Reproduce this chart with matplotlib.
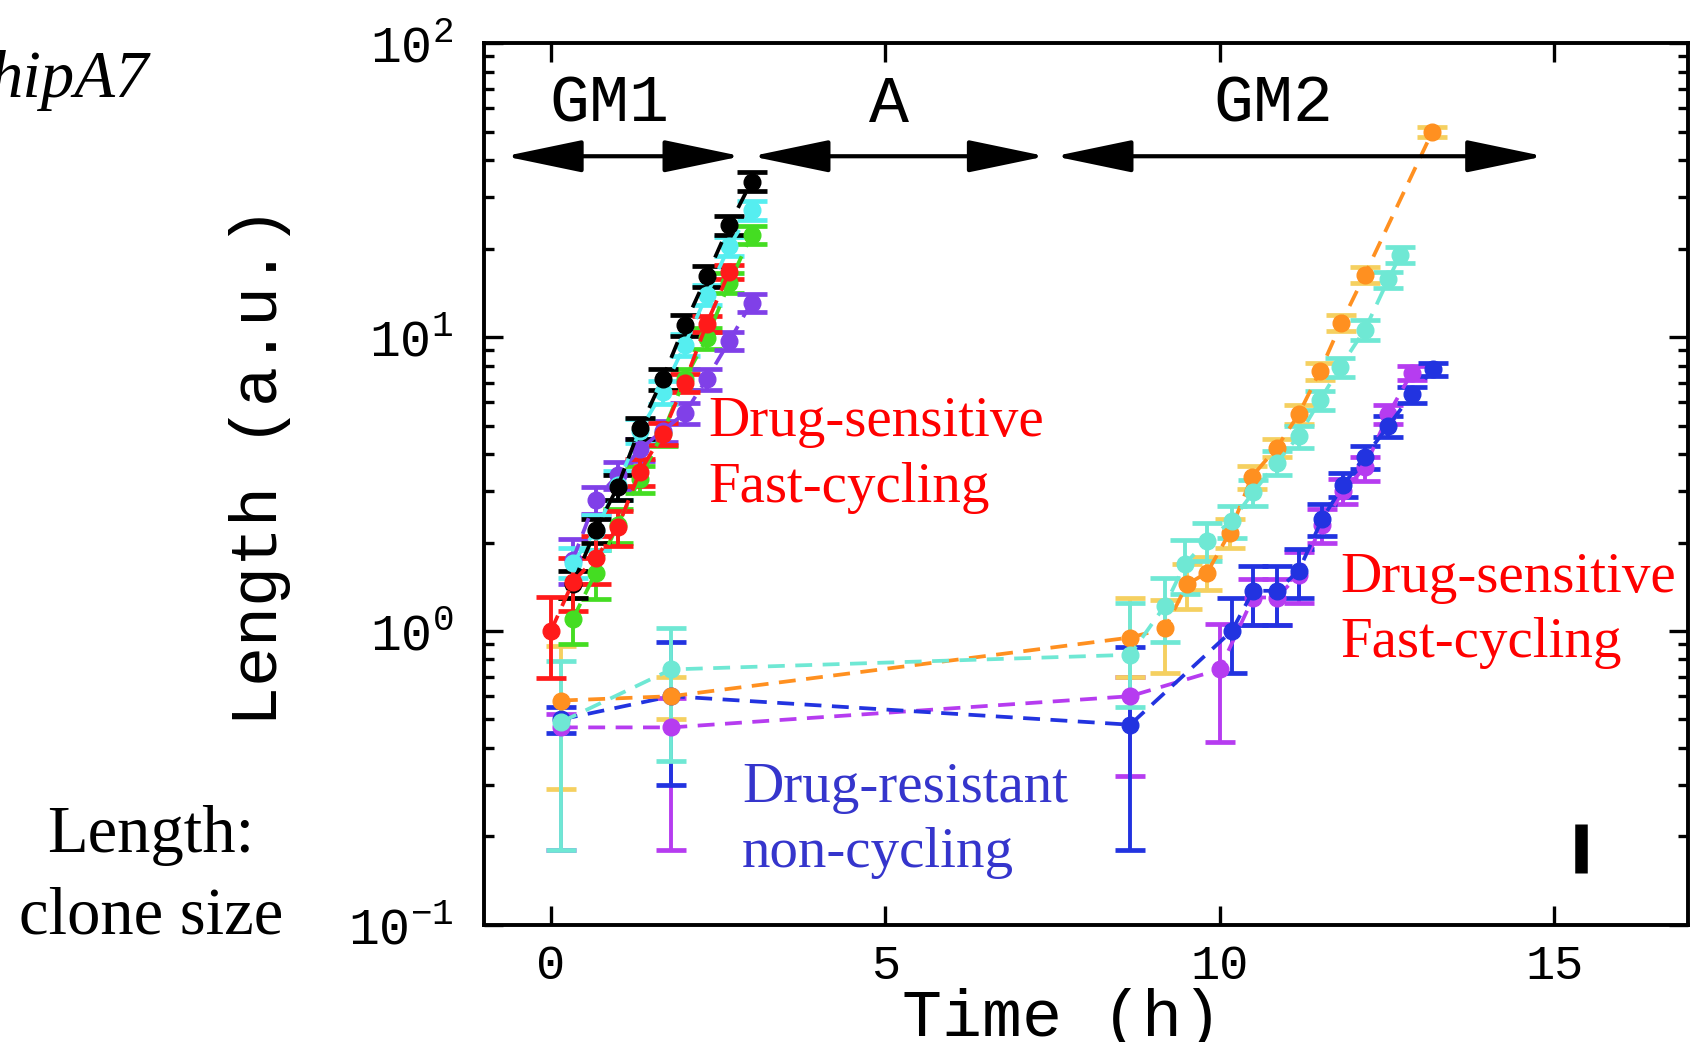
import numpy as np
import matplotlib.pyplot as plt
from matplotlib.ticker import FixedLocator, FuncFormatter, LogLocator, NullFormatter

plt.rcParams['font.family'] = 'Liberation Mono'
plt.rcParams['mathtext.fontset'] = 'custom'
plt.rcParams['mathtext.rm'] = 'Liberation Mono'

# growth phase GM1 (time in h, length in a.u.)
t_red = [0.0, 0.33, 0.67, 1.0, 1.33, 1.67, 2.0, 2.33, 2.67]
y_red = [1.0, 1.47, 1.77, 2.25, 3.48, 4.68, 7.0, 11.1, 16.7]
e_red = [0.31, 0.3, 0.33, 0.31, 0.37, 0.4, 0.5, 0.7, 0.9]

t_gm1 = [0.33, 0.67, 1.0, 1.33, 1.67, 2.0, 2.33, 2.67, 3.0]
y_black = [1.45, 2.2, 3.1, 4.9, 7.2, 11.0, 16.1, 24.1, 33.8]
e_black = [0.15, 0.2, 0.3, 0.4, 0.6, 0.9, 1.3, 1.8, 2.5]
y_cyan = [1.71, 2.19, 3.15, 4.8, 6.5, 9.4, 13.9, 20.4, 27.1]
e_cyan = [0.2, 0.3, 0.35, 0.45, 0.6, 0.8, 1.1, 1.5, 2.0]
y_green = [1.1, 1.58, 2.3, 3.3, 4.7, 7.2, 9.9, 15.3, 22.3]
e_green = [0.2, 0.3, 0.3, 0.35, 0.45, 0.6, 0.8, 1.2, 1.6]
y_purple = [1.75, 2.8, 3.4, 4.15, 4.8, 5.5, 7.2, 9.7, 13.1]
e_purple = [0.3, 0.3, 0.35, 0.35, 0.4, 0.45, 0.6, 0.7, 0.9]

# clones through antibiotic phase A and regrowth GM2
t_orange = [0.15, 1.8, 8.66, 9.18, 9.51, 9.81, 10.15, 10.48, 10.85, 11.18, 11.5, 11.82, 12.17, 13.18]
y_orange = [0.58, 0.6, 0.95, 1.02, 1.44, 1.58, 2.16, 3.35, 4.2, 5.46, 7.66, 11.2, 16.3, 50]
lo_orange = [0.29, 0.1, 0.25, 0.3, 0.25, 0.2, 0.25, 0.3, 0.3, 0.4, 0.5, 0.7, 1.0, 2.0]
hi_orange = [0.31, 0.1, 0.35, 0.25, 0.25, 0.2, 0.25, 0.3, 0.3, 0.4, 0.5, 0.7, 1.0, 2.0]

t_aqua = [0.15, 1.8, 8.66, 9.18, 9.48, 9.81, 10.18, 10.5, 10.85, 11.18, 11.5, 11.8, 12.17, 12.52, 12.7]
y_aqua = [0.49, 0.74, 0.83, 1.22, 1.69, 2.03, 2.37, 2.96, 3.74, 4.6, 6.1, 7.9, 10.6, 15.7, 19.0]
lo_aqua = [0.31, 0.38, 0.28, 0.3, 0.35, 0.3, 0.3, 0.3, 0.35, 0.4, 0.45, 0.6, 0.8, 1.0, 1.2]
hi_aqua = [0.30, 0.28, 0.42, 0.3, 0.35, 0.3, 0.3, 0.3, 0.35, 0.4, 0.45, 0.6, 0.8, 1.0, 1.2]

t_blue = [0.15, 1.8, 8.66, 10.18, 10.5, 10.85, 11.18, 11.53, 11.85, 12.17, 12.52, 12.87, 13.19]
y_blue = [0.5, 0.6, 0.48, 1.0, 1.37, 1.37, 1.6, 2.4, 3.15, 3.92, 4.98, 6.38, 7.76]
lo_blue = [0.05, 0.3, 0.3, 0.28, 0.32, 0.32, 0.3, 0.3, 0.3, 0.35, 0.4, 0.4, 0.4]
hi_blue = [0.05, 0.32, 0.4, 0.3, 0.3, 0.3, 0.3, 0.3, 0.3, 0.35, 0.4, 0.4, 0.4]

t_mag = [0.15, 1.8, 8.66, 10.0, 10.5, 10.85, 11.18, 11.53, 11.85, 12.17, 12.52, 12.87]
y_mag = [0.47, 0.47, 0.6, 0.74, 1.3, 1.3, 1.55, 2.3, 3.0, 3.6, 5.46, 7.55]
lo_mag = [0.29, 0.29, 0.28, 0.32, 0.25, 0.25, 0.3, 0.3, 0.3, 0.35, 0.4, 0.4]
hi_mag = [0.05, 0.12, 0.1, 0.32, 0.2, 0.2, 0.3, 0.3, 0.3, 0.3, 0.4, 0.4]

# phases drawn as arrows on top
phase_names = ['GM1', 'A', 'GM2']
phase_start = [-0.69, 3.0, 7.53]
phase_end = [2.85, 7.4, 14.85]
phase_label_x = [0.87, 5.06, 10.8]
arrow_y = 41.2
label_y = 61.6

bar_t = 15.4
bar_y = [0.15, 0.22]

fig = plt.figure(figsize=(16.91, 10.42), dpi=100)
ax = fig.add_axes([0.2862, 0.1123, 0.7120, 0.8464])

dash = (0, (4.5, 2.8))


def draw(t, y, lo, hi, c, ec=None):
    ax.errorbar(t, y, yerr=[lo, hi], fmt='none', ecolor=ec or c, elinewidth=2.8,
                capsize=11, capthick=3.4, zorder=2)
    ax.plot(t, y, color=c, ls=dash, lw=2.7, marker='o', ms=12, zorder=3)


draw(t_mag, y_mag, lo_mag, hi_mag, '#b63cf0')
draw(t_blue, y_blue, lo_blue, hi_blue, '#2233e0')
draw(t_orange, y_orange, lo_orange, hi_orange, '#ff9020', '#f5d060')
draw(t_aqua, y_aqua, lo_aqua, hi_aqua, '#6fe8d4')

draw(t_gm1, y_green, e_green, e_green, '#44dd22')
draw(t_gm1, y_purple, e_purple, e_purple, '#8040e8')
draw(t_gm1, y_cyan, e_cyan, e_cyan, '#55eef0')
draw(t_gm1, y_black, e_black, e_black, 'black')
draw(t_red, y_red, e_red, e_red, '#ff1a1a')

for name, a, b, lx in zip(phase_names, phase_start, phase_end, phase_label_x):
    ax.annotate('', xy=(b, arrow_y), xytext=(a, arrow_y),
                arrowprops=dict(arrowstyle='<|-|>,head_length=4.8,head_width=1.0',
                                color='black', lw=3, shrinkA=0, shrinkB=0,
                                mutation_scale=10))
    ax.text(lx, label_y, name, ha='center', va='center', fontsize=48)

ax.plot([bar_t, bar_t], bar_y, color='black', lw=9, solid_capstyle='butt')

serif = 'Liberation Serif'
ax.text(2.35, 4.6, 'Drug-sensitive', color='#ff0000', family=serif, fontsize=41)
ax.text(2.35, 2.75, 'Fast-cycling', color='#ff0000', family=serif, fontsize=41)
ax.text(11.81, 1.356, 'Drug-sensitive', color='#ff0000', family=serif, fontsize=41)
ax.text(11.81, 0.817, 'Fast-cycling', color='#ff0000', family=serif, fontsize=41)
ax.text(2.855, 0.262, 'Drug-resistant', color='#3535cc', family=serif, fontsize=41)
ax.text(2.855, 0.158, 'non-cycling', color='#3535cc', family=serif, fontsize=41)

ax.set_yscale('log')
ax.set_xlim(-1, 17)
ax.set_ylim(0.1, 100)
ax.xaxis.set_major_locator(FixedLocator([0, 5, 10, 15]))
ax.yaxis.set_major_locator(LogLocator(base=10, numticks=10))
ax.yaxis.set_minor_locator(LogLocator(base=10, subs=np.arange(2, 10), numticks=10))
ax.yaxis.set_minor_formatter(NullFormatter())
ax.yaxis.set_major_formatter(FuncFormatter(
    lambda v, p: r'$\mathregular{10^{%d}}$' % round(np.log10(v))))
ax.tick_params(which='both', direction='in', top=True, right=True, width=2.4)
ax.tick_params(which='major', length=14, labelsize=37)
ax.tick_params(which='minor', length=7)
ax.tick_params(axis='x', pad=14, labelsize=35)
ax.tick_params(axis='y', pad=22)
for s in ax.spines.values():
    s.set_linewidth(2.8)

ax.set_xlabel('Time (h)', fontsize=48)
ax.xaxis.set_label_coords(0.48, -0.072)
ax.set_ylabel('Length (a.u.)', fontsize=48)
ax.yaxis.set_label_coords(-0.16, 0.52)

fig.text(0.088, 1 - 97 / 1042, 'hipA7', ha='right', va='baseline',
         family=serif, style='italic', fontsize=48)
fig.text(0.0893, 0.1823, 'Length:', ha='center', va='baseline', family=serif, fontsize=48)
fig.text(0.0893, 0.1046, 'clone size', ha='center', va='baseline', family=serif, fontsize=48)

fig.savefig('out.png', dpi=100)
